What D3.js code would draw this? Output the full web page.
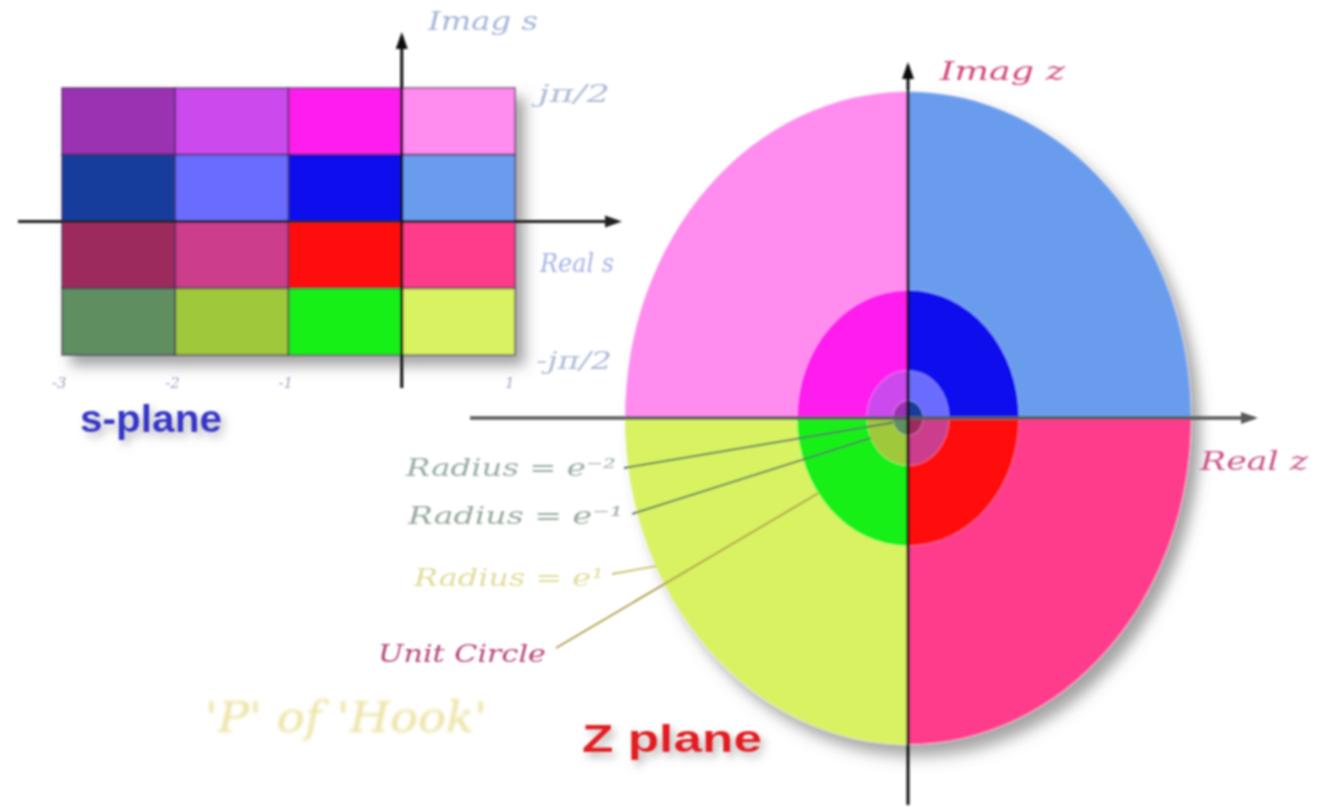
<!DOCTYPE html>
<html><head><meta charset="utf-8">
<script src="https://cdn.jsdelivr.net/npm/d3@7"></script>
<style>html,body{margin:0;padding:0;background:#fff;overflow:hidden}</style>
</head><body>
<svg id="chart" width="1333" height="809"></svg>
<script>
// ---- data ----
const sigmaBounds = [-3, -2, -1, 0, 1];                 // s-plane real-axis cell boundaries
const sigmaTickLabels = ["-3", "-2", "-1", "", "1"];
const omegaBounds = [0.5, 0.25, 0, -0.25, -0.5];        // imaginary bounds in units of π
const omegaTickLabels = ["jπ/2", "", "", "", "-jπ/2"];
const cellColors = [
  ["#9a30b2", "#cc48ee", "#ff1cee", "#ff8cee"],
  ["#143c9c", "#6a6cff", "#0c0cee", "#6a9cee"],
  ["#9c2c5c", "#cc3c8c", "#ff0c0c", "#ff3a8c"],
  ["#5e8e60", "#a0c83a", "#12f012", "#d8f262"]
];
const ringRadii = [0.135, 0.37, 1, 2.55];               // z-plane disc radii (unit circle = 1), one per s column
const quadrantStart = [1.5, 0, 0.5, 1];                 // d3.arc start angle (×π) for each s row
const radiusLabels = ["Radius = e⁻²", "Radius = e⁻¹", "Radius = e¹", "Unit Circle"];
const radiusLabelRing = [0, 1, 3, 2];
const radiusLabelAngle = [195, 205, 207, 216];          // deg, where the leader meets the ring

// ---- layout ----
const svg = d3.select("#chart");
const defs = svg.append("defs");
const sh = defs.append("filter").attr("id", "shadow").attr("x", "-20%").attr("y", "-20%").attr("width", "150%").attr("height", "150%");
sh.append("feDropShadow").attr("dx", 9).attr("dy", 10).attr("stdDeviation", 7).attr("flood-color", "#555").attr("flood-opacity", 0.55);
const tsh = defs.append("filter").attr("id", "tshadow").attr("x", "-20%").attr("y", "-40%").attr("width", "150%").attr("height", "200%");
tsh.append("feDropShadow").attr("dx", 4).attr("dy", 5).attr("stdDeviation", 4).attr("flood-color", "#888").attr("flood-opacity", 0.6);
const soft = defs.append("filter").attr("id", "soft");
soft.append("feGaussianBlur").attr("stdDeviation", 0.9);
const softer = defs.append("filter").attr("id", "softer");
softer.append("feGaussianBlur").attr("stdDeviation", 1.6);

const root = svg.append("g").attr("filter", "url(#soft)");
const serifIt = "'DejaVu Serif','Liberation Serif',serif";
const sansB = "'Liberation Sans',Arial,sans-serif";

function label(g, txt, px, py, size, fill, len, opts = {}) {
  const t = g.append("text").attr("x", px).attr("y", py)
    .attr("font-family", opts.bold ? sansB : serifIt)
    .attr("font-style", opts.bold ? "normal" : "italic")
    .attr("font-weight", opts.bold ? "bold" : "normal")
    .attr("font-size", size).attr("fill", fill).text(txt);
  if (len) t.attr("textLength", len).attr("lengthAdjust", "spacingAndGlyphs");
  if (opts.filter) t.attr("filter", opts.filter);
  return t;
}

// s-plane
const x = d3.scaleLinear().domain([-3, 1]).range([62, 515]);
const y = d3.scaleLinear().domain([-0.5, 0.5]).range([355, 88]);

const cells = [];
cellColors.forEach((row, r) => row.forEach((c, k) => cells.push({r, k, c})));
const sg = root.append("g").attr("filter", "url(#shadow)");
sg.selectAll("rect").data(cells).join("rect")
  .attr("x", d => x(sigmaBounds[d.k]))
  .attr("y", d => y(omegaBounds[d.r]))
  .attr("width", d => x(sigmaBounds[d.k + 1]) - x(sigmaBounds[d.k]))
  .attr("height", d => y(omegaBounds[d.r + 1]) - y(omegaBounds[d.r]))
  .attr("fill", d => d.c)
  .attr("stroke", "rgba(60,40,80,0.55)").attr("stroke-width", 2);

function arrowLine(g, x1, y1, x2, y2, color, w) {
  g.append("line").attr("x1", x1).attr("y1", y1).attr("x2", x2).attr("y2", y2)
    .attr("stroke", color).attr("stroke-width", w);
  const ang = Math.atan2(y2 - y1, x2 - x1);
  const L = 13, W = 6;
  const p = [[x2 + Math.cos(ang) * 4, y2 + Math.sin(ang) * 4],
    [x2 - Math.cos(ang) * L + Math.sin(ang) * W, y2 - Math.sin(ang) * L - Math.cos(ang) * W],
    [x2 - Math.cos(ang) * L - Math.sin(ang) * W, y2 - Math.sin(ang) * L + Math.cos(ang) * W]];
  g.append("path").attr("d", d3.line()(p) + "Z").attr("fill", color);
}
const axS = root.append("g");
arrowLine(axS, 18, y(0), 618, y(0), "#222", 3);
arrowLine(axS, x(0), 388, x(0), 36, "#111", 3);

// s-plane axes text
const tg = root.append("g");
sigmaTickLabels.forEach((d, i) => { if (d) label(tg, d, x(sigmaBounds[i]) - 10, 388, 15, "#9ea6c4"); });
omegaTickLabels.forEach((d, i) => {
  if (d) label(tg, d, d.startsWith("-") ? 536 : 538, y(omegaBounds[i]) + 14, 24, "#aebcd6", d.startsWith("-") ? 76 : 72);
});
label(tg, "Imag s", 428, 30, 26, "#a4b6da", 110);
label(tg, "Real s", 540, 272, 26, "#a4b4e6", 74);
label(tg, "s-plane", 80, 432, 38, "#3434c8", 142, {bold: true, filter: "url(#tshadow)"});

// z-plane
const cx = 908, cy = 418;
const rx = d3.scaleLinear().domain([0, 1]).range([0, 111]);
const ryScale = 128 / 111;
const zg = root.append("g").attr("transform", `translate(${cx},${cy}) scale(1,${ryScale})`);
const arc = d3.arc();
const discs = [];
for (let k = ringRadii.length - 1; k >= 0; k--) {
  cellColors.forEach((row, r) => discs.push({k, r, c: row[k]}));
}
const zShadow = zg.append("g").attr("filter", "url(#shadow)");
zShadow.append("ellipse").attr("rx", rx(ringRadii[3])).attr("ry", rx(ringRadii[3])).attr("fill", "#ddd");
zg.selectAll("path.q").data(discs).join("path").attr("class", "q")
  .attr("d", d => arc({innerRadius: 0, outerRadius: rx(ringRadii[d.k]),
    startAngle: quadrantStart[d.r] * Math.PI, endAngle: (quadrantStart[d.r] + 0.5) * Math.PI}))
  .attr("fill", d => d.c)
  .attr("stroke", "rgba(255,255,255,0.18)").attr("stroke-width", 2);

const axZ = root.append("g");
arrowLine(axZ, 470, cy, 1254, cy, "#5a5a5a", 3.5);
arrowLine(axZ, cx, 805, cx, 66, "#111", 3);

label(root, "Imag z", 940, 80, 26, "#d04a7c", 125);
label(root, "Real z", 1200, 470, 26, "#c8548a", 108);

// radius leaders
const labelPos = [[406, 476], [408, 524], [414, 586], [378, 662]];
const labelLen = [210, 215, 190, 168];
const labelFill = ["#98aea4", "#98aa9e", "#e2dc9c", "#b4447a"];
const lineStart = [[624, 468], [632, 514], [612, 574], [556, 648]];
const lineColor = ["#4e6a60", "#4e6a60", "#c8c068", "#b09a48"];
const lg = root.append("g");
radiusLabels.forEach((t, i) => {
  const a = radiusLabelAngle[i] * Math.PI / 180;
  const r = rx(ringRadii[radiusLabelRing[i]]);
  lg.append("line").attr("x1", lineStart[i][0]).attr("y1", lineStart[i][1])
    .attr("x2", cx + Math.cos(a) * r).attr("y2", cy - Math.sin(a) * r * ryScale)
    .attr("stroke", lineColor[i]).attr("stroke-width", 1.8);
  label(lg, t, labelPos[i][0], labelPos[i][1], 24, labelFill[i], labelLen[i]);
});

label(root, "Z plane", 582, 752, 38, "#e21c24", 180, {bold: true, filter: "url(#tshadow)"});
label(root, "'P' of 'Hook'", 205, 732, 42, "#ece2a0", 282, {filter: "url(#softer)"});
</script>
</body></html>
